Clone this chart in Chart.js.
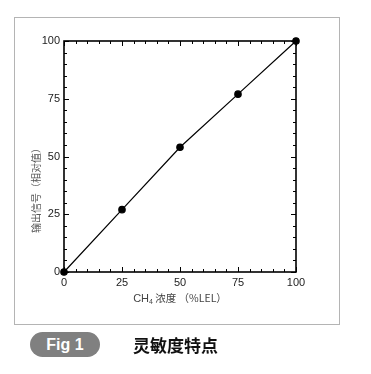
<!DOCTYPE html>
<html><head><meta charset="utf-8">
<script src="https://cdn.jsdelivr.net/npm/chart.js@4"></script>
<style>
html,body{margin:0;padding:0;background:#fff;width:371px;height:374px;overflow:hidden;}
#wrap{position:absolute;left:0;top:0;width:371px;height:374px;}
#frame{position:absolute;left:14px;top:17px;width:324px;height:306px;border:1px solid #b4b4b4;}
#badge{position:absolute;left:30px;top:332px;width:70px;height:25px;border-radius:13px;background:#808080;color:#fff;font:bold 16px "Liberation Sans",Arial,sans-serif;line-height:25px;text-align:center;}
#cap{position:absolute;left:133px;top:333px;font:bold 17px "Noto Sans CJK SC",sans-serif;line-height:24px;color:#111;}
canvas{position:absolute;left:0;top:0;}
</style></head>
<body>
<div id="wrap">
<div id="frame"></div>
<canvas id="c" width="371" height="374"></canvas>
<div id="badge">Fig 1</div>
<div id="cap">灵敏度特点</div>
</div>
<script>
const concentration = [0, 25, 50, 75, 100];
const outputSignal = [0, 27, 54, 77, 100];
const tickValues = [0, 25, 50, 75, 100];
const yTitle = "输出信号（相对值）";
const xTitleParts = ["CH", "4", " 浓度 （%LEL）"];

const decor = {
  id: 'decor',
  afterDraw(chart) {
    const ctx = chart.ctx, a = chart.chartArea;
    const xs = chart.scales.x, ys = chart.scales.y;
    ctx.save();
    ctx.strokeStyle = '#000';
    ctx.lineWidth = 1;
    for (let v = 0; v <= 100; v += 5) {
      const len = (v % 25 === 0) ? 5 : 3;
      const px = Math.round(xs.getPixelForValue(v)) + 0.5;
      const py = Math.round(ys.getPixelForValue(v)) + 0.5;
      ctx.beginPath();
      ctx.moveTo(px, a.bottom); ctx.lineTo(px, a.bottom - len);
      ctx.moveTo(px, a.top); ctx.lineTo(px, a.top + len);
      ctx.moveTo(a.left, py); ctx.lineTo(a.left + len, py);
      ctx.moveTo(a.right, py); ctx.lineTo(a.right - len, py);
      ctx.stroke();
    }
    ctx.lineWidth = 1.6;
    ctx.strokeRect(a.left, a.top, a.right - a.left, a.bottom - a.top);
    // y title
    ctx.fillStyle = '#555';
    ctx.font = '10px "Noto Sans CJK SC", sans-serif';
    ctx.textAlign = 'center'; ctx.textBaseline = 'middle';
    ctx.translate(36, 188);
    ctx.rotate(-Math.PI / 2);
    ctx.fillText(yTitle, 0, 0);
    ctx.restore();
    // x title with subscript
    ctx.save();
    ctx.fillStyle = '#444';
    ctx.textBaseline = 'alphabetic';
    const f1 = '11px "Liberation Sans", Arial, sans-serif';
    const f2 = '7px "Liberation Sans", Arial, sans-serif';
    const f3 = '10.5px "Noto Sans CJK SC", sans-serif';
    ctx.font = f1; const w1 = ctx.measureText(xTitleParts[0]).width;
    ctx.font = f2; const w2 = ctx.measureText(xTitleParts[1]).width;
    ctx.font = f3; const w3 = ctx.measureText(xTitleParts[2]).width;
    let x = (a.left + a.right) / 2 - (w1 + w2 + w3) / 2;
    const base = 302;
    ctx.textAlign = 'left';
    ctx.font = f1; ctx.fillText(xTitleParts[0], x, base); x += w1;
    ctx.font = f2; ctx.fillText(xTitleParts[1], x, base + 2); x += w2;
    ctx.font = f3; ctx.fillText(xTitleParts[2], x, base);
    ctx.restore();
  }
};

new Chart(document.getElementById('c'), {
  type: 'line',
  data: {
    datasets: [{
      data: concentration.map((c, i) => ({x: c, y: outputSignal[i]})),
      borderColor: '#000', borderWidth: 1.2,
      pointRadius: 3.2, pointBackgroundColor: '#000', pointBorderColor: '#000',
      tension: 0, clip: false
    }]
  },
  options: {
    responsive: false, animation: false,
    layout: {padding: {left: 0, top: 41, right: 75, bottom: 0}},
    plugins: {legend: {display: false}, tooltip: {enabled: false}},
    scales: {
      x: {
        type: 'linear', min: 0, max: 100,
        afterFit: s => { s.height = 102; },
        afterBuildTicks: s => { s.ticks = tickValues.map(v => ({value: v})); },
        grid: {display: false, drawTicks: false},
        border: {display: false},
        ticks: {color: '#222', padding: 4, font: {family: '"Liberation Sans", Arial, sans-serif', size: 11}, maxRotation: 0}
      },
      y: {
        type: 'linear', min: 0, max: 100,
        afterFit: s => { s.width = 64; },
        afterBuildTicks: s => { s.ticks = tickValues.map(v => ({value: v})); },
        grid: {display: false, drawTicks: false},
        border: {display: false},
        ticks: {color: '#222', padding: 4, font: {family: '"Liberation Sans", Arial, sans-serif', size: 11}}
      }
    }
  },
  plugins: [decor]
});
</script>
</body></html>
